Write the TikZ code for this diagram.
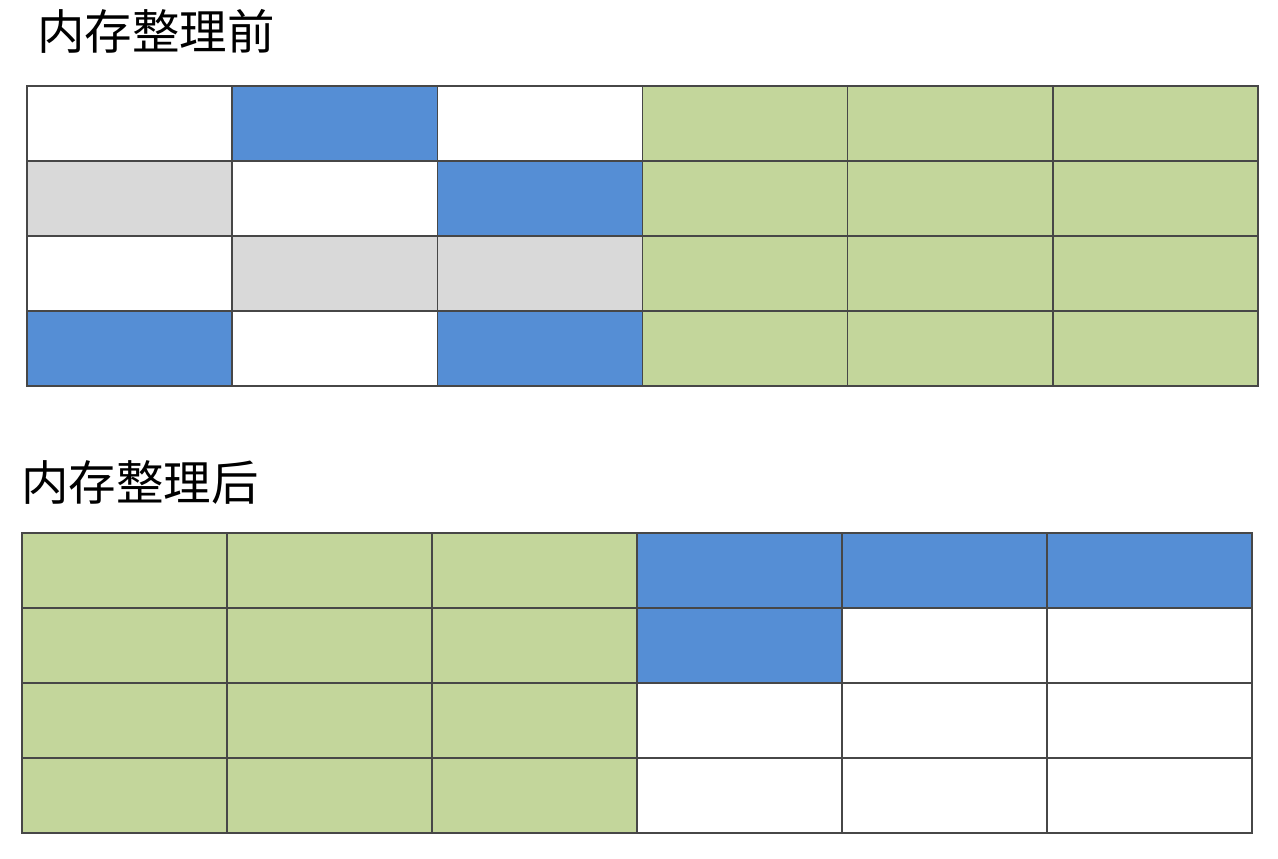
\documentclass[tikz,border=0pt]{standalone}
\usepackage{fontspec}
\newfontfamily\cjk{Noto Sans CJK SC}
\usetikzlibrary{positioning}
\definecolor{usedblue}{HTML}{558ED5}
\definecolor{livegreen}{HTML}{C3D69B}
\definecolor{freegray}{HTML}{D9D9D9}

\begin{document}
\begin{tikzpicture}[x=1pt, y=-1pt,
  cell/.style={draw=black!72, line width=1.3pt, minimum width=205pt, minimum height=75pt,
    inner sep=0pt, outer sep=0pt, anchor=north west},
  title/.style={font=\cjk\fontsize{47.5}{56}\selectfont, inner sep=0pt, anchor=base west}]

\useasboundingbox (0,0) rectangle (1278,859);

% before compaction
\node[title] (before) at (37,50) {内存整理前};
\foreach [count=\r] \row in {{white,usedblue,white,livegreen,livegreen,livegreen},
                             {freegray,white,usedblue,livegreen,livegreen,livegreen},
                             {white,freegray,freegray,livegreen,livegreen,livegreen},
                             {usedblue,white,usedblue,livegreen,livegreen,livegreen}}
  \foreach [count=\c] \fillc in \row
    \node[cell, fill=\fillc] (before-\r-\c) at ({27+(\c-1)*205.2},{86+(\r-1)*75}) {};

% after compaction
\node[title] (after) at (21,500) {内存整理后};
\foreach [count=\r] \row in {{livegreen,livegreen,livegreen,usedblue,usedblue,usedblue},
                             {livegreen,livegreen,livegreen,usedblue,white,white},
                             {livegreen,livegreen,livegreen,white,white,white},
                             {livegreen,livegreen,livegreen,white,white,white}}
  \foreach [count=\c] \fillc in \row
    \node[cell, fill=\fillc] (after-\r-\c) at ({22+(\c-1)*205},{533+(\r-1)*75}) {};

\end{tikzpicture}
\end{document}
